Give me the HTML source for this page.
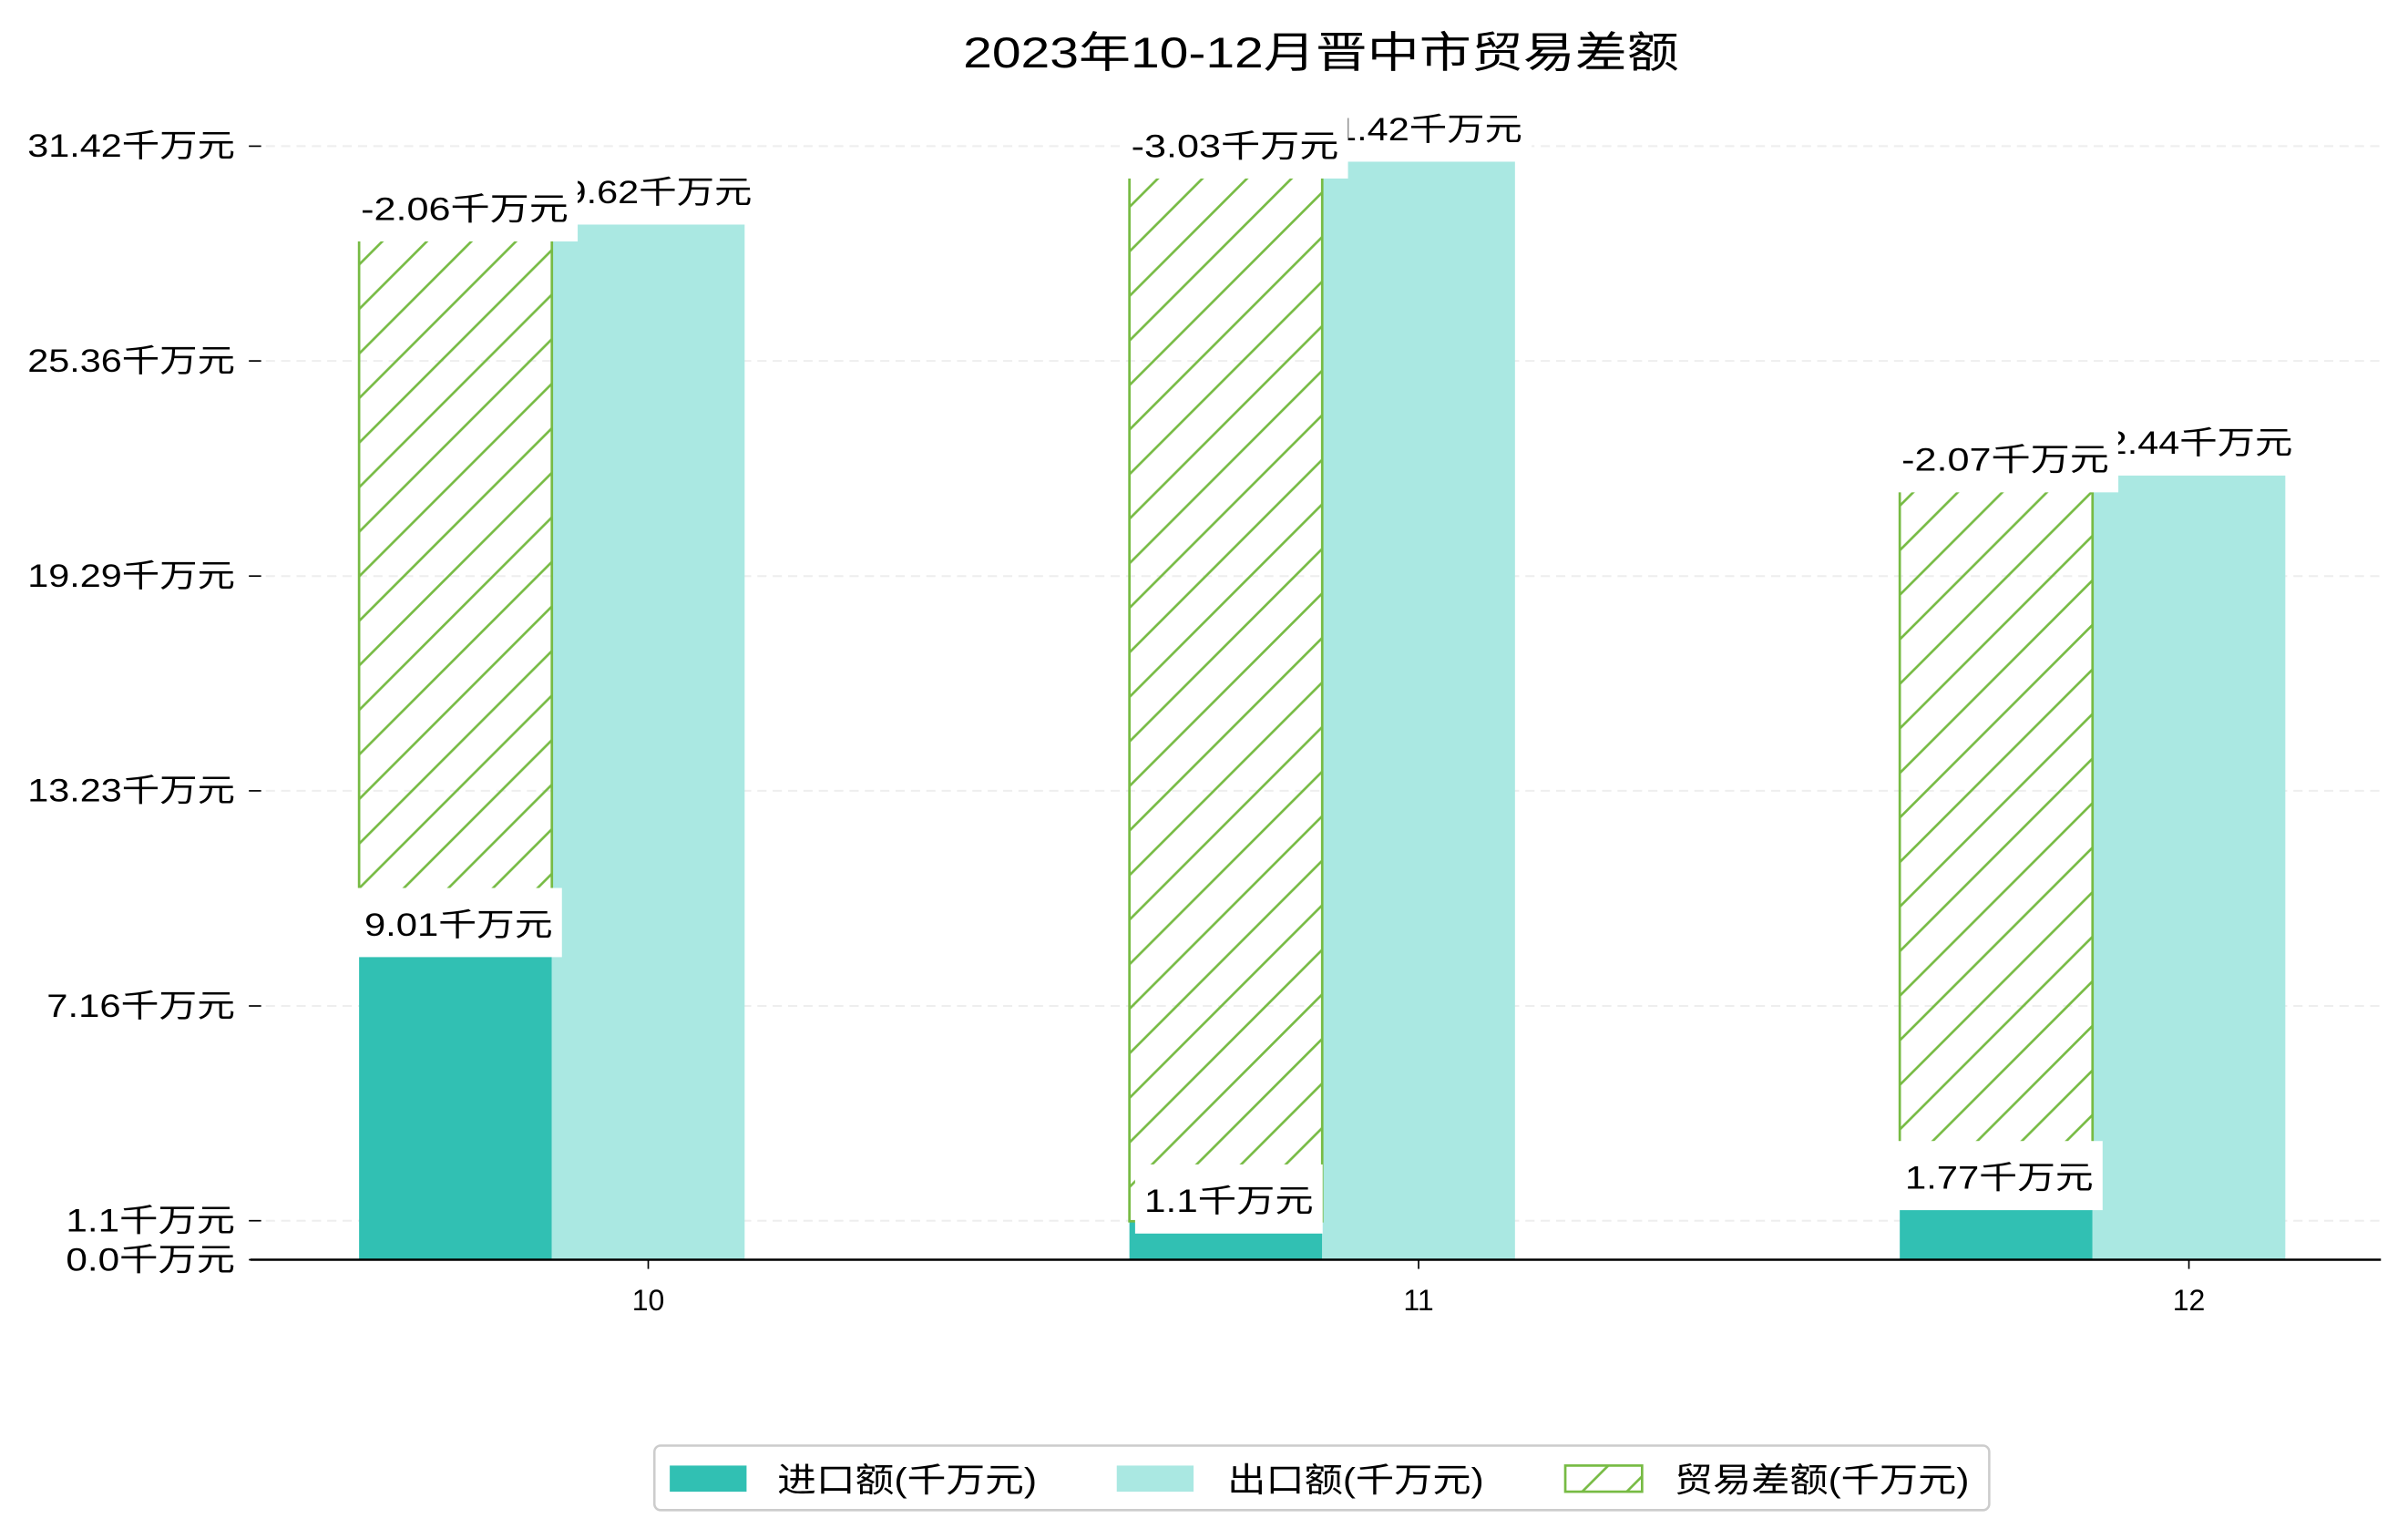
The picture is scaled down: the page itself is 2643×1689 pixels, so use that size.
<!DOCTYPE html>
<html><head><meta charset="utf-8">
<style>html,body{margin:0;padding:0;background:#fff;}svg{display:block;}</style>
</head><body>
<svg id="chart" width="2643" height="1689" viewBox="0 0 1567.6 1001.8" xmlns="http://www.w3.org/2000/svg" font-family="'Liberation Sans','Noto Sans CJK SC',sans-serif">
<defs>
<pattern id="hatch" patternUnits="userSpaceOnUse" width="29" height="29">
<path d="M-7.25,7.25 L7.25,-7.25 M0,29 L29,0 M21.75,36.25 L36.25,21.75" stroke="#77bb44" stroke-width="1.6"/>
</pattern>
</defs>
<rect width="1570" height="1005" fill="#fff"/>
<text x="860" y="44" font-size="28" text-anchor="middle" textLength="466" lengthAdjust="spacingAndGlyphs" fill="#000">2023年10-12月晋中市贸易差额</text>
<g id="grid"></g><g id="bars"></g><g id="labels"></g><g id="axes"></g>
<g>
<rect x="426" y="941" width="869" height="42" rx="4" fill="#fff" stroke="#ccc" stroke-width="1.5"/>
<rect x="436" y="954" width="50" height="17" fill="#31c0b3"/>
<text x="506" y="971" font-size="22" textLength="169" lengthAdjust="spacingAndGlyphs">进口额(千万元)</text>
<rect x="727" y="954" width="50" height="17" fill="#aae8e2"/>
<text x="799" y="971" font-size="22" textLength="167" lengthAdjust="spacingAndGlyphs">出口额(千万元)</text>
<rect x="1019" y="954" width="50" height="17" fill="url(#hatch)" stroke="#77bb44" stroke-width="1.6"/>
<text x="1090" y="971" font-size="22" textLength="192" lengthAdjust="spacingAndGlyphs">贸易差额(千万元)</text>
</g>
</svg>
<script>
const categories = ['10','11','12'];
const importVals = [9.01, 1.1, 1.77];
const exportVals = [29.62, 31.42, 22.44];
const balanceVals = [-2.06, -3.03, -2.07];
const tickVals = [0.0, 1.1, 7.16, 13.23, 19.29, 25.36, 31.42];
const tickLabels = ['0.0千万元','1.1千万元','7.16千万元','13.23千万元','19.29千万元','25.36千万元','31.42千万元'];

const NS='http://www.w3.org/2000/svg';
const y0=820, xL=163, xR=1550;
function y(v){return y0 - v*22.75;}
function yTick(v){return y0 - v*23.07;}
function xc(i){return 422 + i*501.5;}
const bw=125.5;
function mk(tag,attrs,parent){const e=document.createElementNS(NS,tag);for(const k in attrs)e.setAttribute(k,attrs[k]);parent.appendChild(e);return e;}
function tlen(s){let a=0,c=0;for(const ch of s){if(ch.charCodeAt(0)<256)a++;else c++;}return a*12.5+c*24.2;}
const grid=document.getElementById('grid'),bars=document.getElementById('bars'),labels=document.getElementById('labels'),axes=document.getElementById('axes');

tickVals.forEach((v,i)=>{
  const ty=yTick(v);
  if(i>0){const g=mk('line',{x1:xL,x2:xR,y1:ty,y2:ty,stroke:'#eeeeee','stroke-width':1.2,'stroke-dasharray':'6,4'},grid);
  
  }
  const t=mk('line',{x1:162,x2:170,y1:ty,y2:ty,stroke:'#000','stroke-width':1},axes);
  
  
  const l=mk('text',{x:153,y:ty+7,'font-size':21,'text-anchor':'end',textLength:tlen(tickLabels[i]),lengthAdjust:'spacingAndGlyphs'},axes);
  l.textContent=tickLabels[i];
  
  
});
const ax=mk('line',{x1:xL,x2:xR,y1:y0,y2:y0,stroke:'#000','stroke-width':1.5},axes);



function label(cx,topY,txt,name){
  const tl=tlen(txt);
  const w=tl+12;
  const r=mk('rect',{x:cx-w/2,y:topY-45,width:w,height:45,fill:'#fff'},labels);
  
  
  const t=mk('text',{x:cx,y:topY-14,'font-size':21,'text-anchor':'middle',textLength:tl,lengthAdjust:'spacingAndGlyphs'},labels);
  t.textContent=txt;
  
  
}
categories.forEach((c,i)=>{
  const x=xc(i);
  const bi=mk('rect',{x:x-bw/2-bw,y:y(importVals[i]),width:bw,height:y0-y(importVals[i]),fill:'#31c0b3'},bars);
  
  
  const be=mk('rect',{x:x-bw/2,y:y(exportVals[i]),width:bw,height:y0-y(exportVals[i]),fill:'#aae8e2'},bars);
  
  
  const bh=mk('rect',{x:x-bw/2-bw,y:y(exportVals[i]),width:bw,height:y(importVals[i])-y(exportVals[i]),fill:'url(#hatch)',stroke:'#77bb44','stroke-width':1.6},bars);
  
  
  const xt=mk('line',{x1:x,x2:x,y1:y0,y2:y0+6,stroke:'#000','stroke-width':1},axes);
  
  
  const xl=mk('text',{x:x,y:853,'font-size':19,'text-anchor':'middle'},axes);
  xl.textContent=c;
  
  
});
categories.forEach((c,i)=>{label(xc(i),y(exportVals[i]),exportVals[i]+'千万元','export-value-label');});
categories.forEach((c,i)=>{label(xc(i)-bw+6,y(exportVals[i])+11,balanceVals[i]+'千万元','balance-value-label');});
categories.forEach((c,i)=>{label(xc(i)-bw+2,y(importVals[i])+8,importVals[i]+'千万元','import-value-label');});
</script>
</body></html>
